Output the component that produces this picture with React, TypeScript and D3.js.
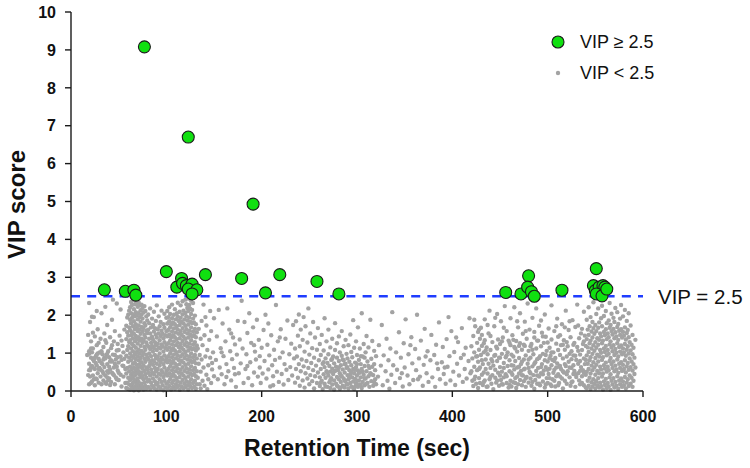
import React from "react";
import * as d3 from "d3";

// Retention time (sec) and VIP score of the variables with VIP >= 2.5
const vipHigh: [number, number][] = [
  [77, 9.08], [123, 6.70], [191, 4.93],
  [35, 2.67], [57, 2.63], [66, 2.66], [68, 2.53], [100, 3.15], [111, 2.74],
  [116, 2.97], [117, 2.84], [121, 2.78], [127, 2.82], [123, 2.69], [132, 2.67],
  [127, 2.56], [141, 3.07], [179, 2.97], [204, 2.59], [219, 3.07], [258, 2.89],
  [281, 2.56], [456, 2.60], [472, 2.56], [480, 3.04], [479, 2.74], [483, 2.62],
  [486, 2.50], [515, 2.66], [551, 3.23], [548, 2.78], [550, 2.65], [554, 2.74],
  [558, 2.78], [560, 2.74], [551, 2.56], [557, 2.51], [562, 2.69],
];

// VIP < 2.5 : [retention time, list of VIP scores at that time]
const grayEarly: [number, number[]][] = [
  [17, [0.95]], [18, [0.42, 1.48]], [19, [0.18, 0.72, 1.05, 2.32]], [20, [1.82, 0.55, 0.38]],
  [21, [0.88, 1.31, 0.62]], [22, [0.25, 0.66, 1.96, 1.02]], [23, [1.12, 0.41, 0.84]],
  [24, [0.79, 1.95, 0.31]], [25, [0.15, 0.58, 1.44]], [26, [0.92, 0.33, 0.74]],
  [27, [1.21, 0.68, 2.11]], [28, [0.47, 1.63, 0.99]], [29, [0.85, 0.22]], [30, [1.02, 0.61, 0.79]],
  [31, [0.38, 1.38, 0.56]], [32, [0.74, 2.05]], [33, [0.52, 0.97, 0.71]], [34, [0.28, 1.16, 0.46]],
  [35, [0.63, 1.52, 0.88]], [36, [0.41, 0.86, 2.22]], [37, [1.27, 0.19, 0.95]], [38, [0.71, 1.74, 0.52]],
  [39, [0.48, 1.05, 0.28]], [40, [0.33, 0.89, 0.64]], [41, [1.42, 0.57]], [42, [0.24, 1.13, 0.81]],
  [43, [0.78, 1.88]], [44, [0.45, 0.96, 2.41]], [45, [1.31, 0.62, 0.42]], [46, [0.18, 1.58]],
  [47, [0.83, 0.36, 0.66]], [48, [1.07, 2.31]], [49, [0.54, 1.24, 0.89]], [50, [0.75, 0.29]],
  [51, [1.46]], [52, [0.91, 0.43, 2.15]], [53, [0.12]], [54, [0.67, 1.19]], [55, [0.38]],
  [56, [0.85, 1.62]], [57, [0.21, 0.58]],
];

const grayEarlyExtra: [number, number[]][] = [
  [19, [0.55, 0.98]], [21, [0.21, 1.12]], [23, [0.62, 1.54]], [25, [0.87]], [27, [0.31, 0.96]],
  [29, [0.58, 1.27]], [32, [0.18, 1.05]], [34, [0.83]], [36, [0.22, 1.34]], [38, [0.36, 0.98]],
  [41, [0.78, 0.16]], [43, [0.48, 1.21]], [46, [0.72, 0.95]], [48, [0.31, 0.64]], [50, [1.08, 0.48]],
  [53, [0.82, 1.33]], [55, [0.66, 1.02]],
];

const grayPeakA: [number, number[]][] = [
  [58, [0.08, 0.46, 0.93, 1.37, 1.72]], [59, [0.22, 0.61, 1.08, 1.55, 1.94]],
  [60, [0.05, 0.35, 0.77, 1.18, 1.46, 2.01]], [61, [0.17, 0.52, 0.88, 1.29, 1.68, 2.12]],
  [62, [0.03, 0.29, 0.64, 0.99, 1.34, 1.61, 1.88, 2.21]], [63, [0.14, 0.43, 0.81, 1.12, 1.47, 1.79, 2.05, 2.35]],
  [64, [0.07, 0.36, 0.58, 0.92, 1.24, 1.55, 1.93, 2.27]], [65, [0.21, 0.49, 0.72, 1.05, 1.39, 1.71, 2.02, 2.41]],
  [66, [0.02, 0.31, 0.62, 0.88, 1.19, 1.51, 1.84, 2.16, 2.44]], [67, [0.12, 0.41, 0.75, 0.97, 1.31, 1.63, 1.97, 2.29]],
  [68, [0.05, 0.26, 0.55, 0.84, 1.14, 1.45, 1.76, 2.08, 2.38]], [69, [0.17, 0.46, 0.69, 1.03, 1.36, 1.67, 1.99, 2.31]],
  [70, [0.09, 0.33, 0.61, 0.92, 1.25, 1.58, 1.89, 2.22]], [71, [0.02, 0.24, 0.52, 0.81, 1.09, 1.42, 1.73, 2.05, 2.34]],
  [72, [0.14, 0.43, 0.71, 0.99, 1.33, 1.62, 1.95, 2.26]], [73, [0.07, 0.36, 0.64, 0.87, 1.19, 1.51, 1.83, 2.13]],
  [74, [0.19, 0.48, 0.76, 1.06, 1.38, 1.69, 2.01, 2.28]], [75, [0.11, 0.39, 0.59, 0.94, 1.27, 1.57, 1.91, 2.19]],
  [76, [0.04, 0.31, 0.68, 1.01, 1.34, 1.66, 2.07]], [77, [0.22, 0.53, 0.85, 1.16, 1.48, 1.79, 2.24]],
  [78, [0.13, 0.44, 0.77, 1.09, 1.41, 1.73, 2.11]], [79, [0.06, 0.35, 0.62, 0.96, 1.28, 1.59, 1.97]],
  [80, [0.25, 0.57, 0.89, 1.21, 1.53, 1.86]],
];

const grayValley: [number, number[]][] = [
  [81, [0.11, 0.48, 0.83, 1.17, 1.62, 2.02]], [82, [0.29, 0.66, 0.99, 1.38, 1.79]],
  [83, [0.05, 0.41, 0.74, 1.11, 1.52, 2.18]], [84, [0.22, 0.57, 0.92, 1.27, 1.68]],
  [85, [0.14, 0.49, 0.81, 1.19, 1.43, 1.91]], [86, [0.33, 0.69, 1.04, 1.36, 1.74]],
  [87, [0.08, 0.44, 0.78, 1.13, 1.57, 2.09]], [88, [0.26, 0.61, 0.95, 1.29, 1.66]],
  [89, [0.17, 0.52, 0.86, 1.21, 1.49, 1.85]], [90, [0.04, 0.38, 0.72, 1.08, 1.41, 2.26]],
  [91, [0.21, 0.58, 0.91, 1.25, 1.63]], [92, [0.12, 0.46, 0.82, 1.15, 1.52, 1.97]],
  [93, [0.31, 0.67, 0.99, 1.34, 1.71]], [94, [0.06, 0.43, 0.76, 1.12, 1.45, 1.82]],
  [95, [0.24, 0.55, 0.88, 1.23, 1.59, 2.12]], [96, [0.15, 0.49, 0.83, 1.18, 1.51]],
  [97, [0.02, 0.37, 0.71, 1.04, 1.39, 1.76]], [98, [0.27, 0.62, 0.94, 1.29, 1.67, 2.04]],
  [99, [0.09, 0.44, 0.79, 1.13, 1.47]], [100, [0.19, 0.53, 0.87, 1.22, 1.58, 1.93]],
];

const grayPeakB: [number, number[]][] = [
  [101, [0.07, 0.41, 0.76, 1.09, 1.44, 1.78, 2.11]], [102, [0.24, 0.58, 0.92, 1.26, 1.61, 1.95]],
  [103, [0.13, 0.47, 0.81, 1.15, 1.49, 1.84, 2.21]], [104, [0.31, 0.65, 0.99, 1.33, 1.68, 2.03]],
  [105, [0.04, 0.38, 0.72, 1.06, 1.41, 1.75]], [106, [0.21, 0.55, 0.89, 1.23, 1.57, 1.92, 2.28]],
  [107, [0.11, 0.45, 0.79, 1.13, 1.47, 1.81]], [108, [0.28, 0.62, 0.96, 1.31, 1.65, 2.01]],
  [109, [0.06, 0.39, 0.73, 1.07, 1.42, 1.76, 2.16]], [110, [0.18, 0.52, 0.86, 1.21, 1.54, 1.89]],
  [111, [0.09, 0.34, 0.68, 1.02, 1.37, 1.71, 2.05]], [112, [0.25, 0.59, 0.93, 1.27, 1.62, 1.96, 2.33]],
  [113, [0.14, 0.48, 0.82, 1.16, 1.51, 1.85]], [114, [0.03, 0.37, 0.71, 1.05, 1.39, 1.74, 2.09]],
  [115, [0.22, 0.56, 0.91, 1.24, 1.58, 1.93, 2.26]], [116, [0.12, 0.46, 0.79, 1.14, 1.48, 1.82]],
  [117, [0.29, 0.63, 0.97, 1.32, 1.66, 2.02, 2.37]], [118, [0.07, 0.41, 0.75, 1.09, 1.43, 1.78, 2.12]],
  [119, [0.19, 0.53, 0.87, 1.22, 1.56, 1.89]], [120, [0.1, 0.35, 0.69, 1.03, 1.38, 1.72, 2.06, 2.41]],
  [121, [0.26, 0.6, 0.94, 1.28, 1.63, 1.97, 2.29]], [122, [0.15, 0.49, 0.83, 1.17, 1.52, 1.86, 2.19]],
  [123, [0.04, 0.38, 0.72, 1.07, 1.41, 1.75, 2.11, 2.44]], [124, [0.23, 0.57, 0.91, 1.25, 1.59, 1.94, 2.27]],
  [125, [0.13, 0.47, 0.81, 1.15, 1.49, 1.83, 2.17]], [126, [0.31, 0.65, 0.99, 1.34, 1.68, 2.03, 2.38]],
  [127, [0.08, 0.42, 0.76, 1.1, 1.44, 1.79, 2.14]], [128, [0.21, 0.55, 0.89, 1.23, 1.57, 1.91, 2.32]],
  [129, [0.11, 0.45, 0.79, 1.13, 1.47, 1.81]], [130, [0.27, 0.61, 0.95, 1.29, 1.64, 1.99]],
  [131, [0.06, 0.39, 0.73, 1.07, 1.42, 1.76]], [132, [0.18, 0.52, 0.86, 1.2, 1.55]],
];

const grayMidEarly: [number, number[]][] = [
  [133, [0.35, 1.12]], [134, [0.72, 1.64]], [135, [0.18, 0.95]], [136, [1.38, 0.51, 0.07]],
  [137, [0.83, 1.85]], [138, [0.27, 1.21]], [139, [0.62, 2.28]], [140, [1.47, 0.14]],
  [141, [0.91, 1.95]], [142, [0.43, 1.73]], [143, [1.08, 0.05]], [144, [0.31, 0.68]],
  [145, [1.35]], [146, [0.88, 2.11]], [147, [0.21, 1.58]], [148, [0.57, 0.74]], [149, [1.02]],
  [150, [0.39, 1.92]], [152, [0.82]], [153, [1.44]], [154, [0.31]], [155, [2.14]], [156, [0.62]],
  [157, [1.13]], [158, [0.44, 1.02]], [159, [1.78]], [160, [0.92]], [161, [0.18]], [162, [1.31]],
  [163, [0.71, 0.37]], [164, [2.18]], [165, [0.52]], [166, [1.62]], [167, [1.05]], [168, [0.28, 1.52]],
  [169, [0.84]], [170, [1.41]], [171, [0.61]], [172, [1.23, 0.44]], [173, [0.11]], [174, [0.96]],
  [175, [1.85]], [176, [0.47]], [177, [1.36]], [178, [0.73]], [179, [2.38]], [180, [1.12]],
  [181, [0.21]], [182, [1.82]], [183, [0.58]], [184, [0.97]], [185, [1.53, 0.66]], [186, [0.34]],
  [187, [2.05]], [188, [0.76]], [189, [1.27]], [190, [0.15]], [191, [1.68]], [192, [0.49, 1.21]],
  [193, [1.04]], [194, [0.83]], [195, [1.88]], [196, [0.38]], [197, [1.35]], [198, [0.62, 0.92]],
  [199, [0.21]], [200, [1.14]], [201, [0.46]], [202, [1.61]], [203, [0.79]], [204, [2.01]],
  [205, [0.33]], [206, [1.22]], [207, [0.57, 1.78]], [208, [0.94]], [209, [0.12]], [210, [1.47]],
  [211, [0.68]], [212, [0.39, 0.15]], [213, [1.09]], [214, [0.82]], [215, [2.27]], [216, [0.51]],
  [217, [1.31]], [218, [0.24]], [219, [0.88, 1.41]], [220, [1.63]], [221, [0.45]], [222, [1.02]],
  [223, [0.17]], [224, [0.71]], [225, [1.38]], [226, [0.56]], [227, [1.86]], [228, [0.29]],
  [229, [0.97]], [230, [0.63]], [231, [1.25]], [232, [0.41]], [233, [1.74]], [234, [0.86]],
];

const grayMid: [number, number[]][] = [
  [235, [0.22, 1.12]], [236, [0.58, 1.84]], [237, [0.91]], [238, [0.35, 1.46]], [239, [0.71, 2.02]],
  [240, [0.14, 1.18]], [241, [0.52, 1.62]], [242, [0.83]], [243, [0.28, 1.35]], [244, [0.65, 1.95]],
  [245, [0.09, 1.04]], [246, [0.47, 1.71]], [247, [0.79]], [248, [0.33, 1.28]], [249, [0.61, 2.18]],
  [250, [0.18, 0.96]], [251, [0.42, 1.52]], [252, [0.74]], [253, [0.26, 1.13]], [254, [0.55, 1.82]],
  [255, [0.07, 0.88]], [256, [0.39, 1.41]], [257, [0.67]], [258, [0.21, 1.09]], [259, [0.49, 1.66]],
  [260, [0.81]], [261, [0.13, 0.36, 1.24]], [262, [0.58, 0.95]], [263, [0.27, 1.48]], [264, [0.72, 0.05]],
  [265, [0.44, 1.07]], [266, [0.19, 0.63, 1.92]], [267, [0.86, 0.35]], [268, [0.52, 1.31]], [269, [0.11, 0.74]],
  [270, [0.41, 0.97, 1.62]], [271, [0.23, 0.66]], [272, [0.08, 0.51, 1.15]], [273, [0.34, 0.82]],
  [274, [0.17, 0.59, 1.38]], [275, [0.45, 0.91]], [276, [0.04, 0.28, 0.73]], [277, [0.53, 1.08, 1.79]],
  [278, [0.19, 0.64]], [279, [0.37, 0.88, 1.26]], [280, [0.12, 0.55]], [281, [0.31, 0.79, 1.44]],
  [282, [0.06, 0.47, 1.02]], [283, [0.24, 0.68]], [284, [0.39, 0.93, 1.58]], [285, [0.14, 0.57]],
  [286, [0.33, 0.81, 1.18]], [287, [0.09, 0.49]], [288, [0.27, 0.72, 1.35]], [289, [0.18, 0.61, 0.98]],
  [290, [0.42, 0.86]], [291, [0.07, 0.31, 1.21]], [292, [0.55, 0.77]], [293, [0.21, 0.44, 1.49]],
  [294, [0.12, 0.68, 1.03]], [295, [0.36, 0.89]], [296, [0.25, 0.58, 1.87]], [297, [0.05, 0.47, 1.14]],
  [298, [0.32, 0.75]], [299, [0.19, 0.63, 1.31]], [300, [0.41, 0.95]], [301, [0.11, 0.54, 1.68]],
  [302, [0.28, 0.82]], [303, [0.17, 0.49, 1.12]], [304, [0.36, 0.71]], [305, [0.08, 0.58, 2.05]],
  [306, [0.24, 0.91]], [307, [0.43, 1.24]], [308, [0.15, 0.66]], [309, [0.33, 1.02]], [310, [0.52, 1.45]],
  [311, [0.21, 0.78]], [312, [0.39, 1.15]], [313, [0.11, 0.61]], [314, [0.47, 1.88]], [315, [0.26, 0.85]],
  [316, [0.64, 1.32]], [317, [0.14, 0.42]], [318, [0.71, 1.06]], [319, [0.31, 0.55]], [320, [0.18, 0.92]],
];

const grayMidExtra: [number, number[]][] = [
  [262, [0.22]], [265, [0.76]], [267, [0.12]], [269, [0.48]], [272, [0.29]], [274, [0.85]], [276, [0.52]],
  [279, [0.14]], [281, [0.62]], [283, [0.41, 0.09]], [285, [0.83]], [287, [0.27, 0.71]], [290, [0.18, 0.63]],
  [292, [0.36]], [294, [0.51]], [296, [0.08]], [298, [0.56, 0.12]], [300, [0.27, 0.71]], [302, [0.48]],
  [304, [0.16, 0.92]], [306, [0.51]], [308, [0.33, 0.88]], [310, [0.19]], [312, [0.66]], [315, [0.44]],
  [318, [0.23]],
];

const grayGap: [number, number[]][] = [
  [322, [0.38]], [323, [1.21]], [325, [0.67]], [326, [1.74]], [327, [0.15]], [328, [0.94]], [330, [0.52]],
  [331, [1.38]], [332, [0.27]], [333, [0.81]], [334, [0.06]], [335, [1.12]], [336, [0.43]], [337, [2.08]],
  [338, [0.68]], [340, [0.21]], [341, [1.02]], [342, [0.56]], [344, [1.55]], [345, [0.34]], [346, [0.88]],
  [347, [0.47]], [348, [0.12]], [349, [1.26]], [350, [0.62]], [351, [1.89]], [353, [0.41]], [354, [0.97]],
  [355, [0.18]], [356, [1.21]], [357, [1.42]], [358, [0.73]], [359, [0.29]], [361, [1.11]], [362, [0.55]],
  [363, [2.01]], [364, [0.31]], [365, [0.86]], [366, [0.38]], [367, [1.33]], [369, [0.14]], [370, [0.69]],
  [371, [1.64]], [372, [0.91]], [373, [0.47]], [374, [1.05]], [375, [0.24]], [377, [0.81]], [378, [1.48]],
  [379, [0.36]], [381, [0.95]], [382, [0.11]], [383, [1.22]], [384, [0.73]], [385, [0.58]], [386, [1.81]],
  [387, [0.31]], [389, [0.76]], [390, [1.16]], [391, [0.45]], [392, [0.62]], [393, [0.19]], [394, [1.37]],
  [395, [0.64]], [396, [1.95]], [397, [0.92]], [398, [0.28]], [399, [1.58]], [401, [0.51]], [402, [1.03]],
  [403, [0.16]], [404, [1.41]], [405, [0.72]], [406, [1.29]], [407, [0.41]], [409, [0.87]], [410, [1.66]],
  [411, [0.24]], [412, [0.96]], [413, [0.58]], [414, [1.14]], [415, [0.33]], [417, [0.79]], [418, [1.92]],
  [419, [0.47]],
];

const grayLateA: [number, number[]][] = [
  [420, [0.52, 1.18]], [421, [0.27, 0.86]], [422, [1.45, 0.13]], [423, [0.64, 1.02]], [424, [0.38, 1.71]],
  [425, [0.91, 0.19]], [426, [0.55, 1.27]], [427, [0.08, 0.77, 1.56]], [428, [0.34, 1.09]],
  [429, [0.62, 1.38, 0.21]], [430, [0.95, 1.67]], [431, [0.43, 1.19]], [432, [0.16, 0.71]], [433, [1.02, 0.49]],
  [434, [0.28, 1.34, 1.89]], [435, [0.83, 0.58]], [436, [0.11, 1.15]], [437, [0.46, 0.97]], [438, [0.72, 1.52]],
  [439, [0.31, 2.12]], [440, [0.61, 1.08]], [441, [0.19, 0.84]], [442, [1.29, 0.42]], [443, [0.05, 0.67]],
  [444, [0.93, 1.71]], [445, [0.35, 0.56]], [446, [1.17, 0.22]], [447, [0.79, 2.03]], [448, [0.48, 1.36]],
  [449, [0.14, 0.88]], [450, [0.63, 1.24]], [451, [0.29, 1.84]], [452, [0.98, 0.51]], [453, [0.17, 1.41]],
  [454, [0.74, 0.36]], [455, [1.11, 2.24]], [456, [0.44, 0.89]], [457, [0.21, 1.58]], [458, [0.66, 1.02]],
  [459, [0.09, 1.33]], [460, [0.52, 0.81]],
  [461, [0.27, 1.21, 1.92]], [462, [0.68, 0.12]], [463, [0.43, 1.47]], [464, [0.91, 0.23]],
  [465, [0.57, 1.16, 2.21]], [466, [0.34, 0.79]], [467, [1.32, 0.08]], [468, [0.62, 1.04]], [469, [0.18, 1.68]],
  [470, [0.87, 0.46]], [471, [0.29, 1.26, 2.05]], [472, [0.71, 0.53]], [473, [1.09, 0.15]], [474, [0.41, 1.51]],
  [475, [0.83, 0.26]], [476, [0.59, 1.19, 1.83]], [477, [0.11, 0.94]], [478, [0.37, 1.38]], [479, [0.72, 2.31]],
  [480, [0.22, 1.06]], [481, [0.51, 1.62]], [482, [0.88, 0.33]], [483, [0.14, 1.24]], [484, [0.65, 1.93]],
  [485, [0.42, 0.97]], [486, [1.41, 0.06]], [487, [0.76, 0.29]], [488, [0.53, 1.12, 2.18]], [489, [0.19, 0.84]],
  [490, [1.33, 0.61]], [491, [0.38, 1.72]], [492, [0.92, 0.15]], [493, [0.47, 1.18]], [494, [0.71, 1.54]],
  [495, [0.25, 0.98]], [496, [1.27, 0.54]], [497, [0.09, 0.81, 2.02]], [498, [0.63, 1.43]], [499, [0.34, 1.06]],
  [500, [0.78, 0.21]], [501, [0.45, 1.65]], [502, [1.14, 0.59]], [503, [0.17, 0.93]], [504, [0.68, 1.36, 2.26]],
  [505, [0.31, 0.82]], [506, [1.02, 0.48]], [507, [0.56, 1.58]], [508, [0.12, 0.87]], [509, [1.25, 0.39]],
  [510, [0.73, 1.91]], [511, [0.44, 1.08]], [512, [0.21, 0.64]], [513, [1.47, 0.95]], [514, [0.58, 1.21]],
  [515, [0.33, 1.76]], [516, [0.86, 0.07]], [517, [0.49, 1.34]], [518, [1.09, 0.27]], [519, [0.66, 2.12]],
  [520, [0.19, 0.91]], [521, [1.18, 0.52]], [522, [0.77, 1.61]], [523, [0.36, 0.98]], [524, [1.42, 0.14]],
  [525, [0.61, 1.05]], [526, [0.25, 1.87]], [527, [0.94, 0.45]], [528, [0.53, 1.27]], [529, [0.11, 1.69]],
  [530, [0.82, 0.37]], [531, [1.16, 2.28]], [532, [0.47, 0.72]], [533, [0.28, 1.39]], [534, [0.96, 0.18]],
  [535, [0.63, 1.52]], [536, [0.39, 1.08]], [537, [1.24, 0.55]], [538, [0.15, 0.86, 2.09]], [539, [0.71, 1.46]],
  [540, [0.43, 1.19]],
];

const grayLateExtra: [number, number[]][] = [
  [423, [0.31, 1.88]], [426, [0.92]], [428, [0.58, 1.62]], [431, [0.81, 1.48]], [433, [0.24, 1.26]],
  [435, [1.07]], [437, [0.12, 1.74]], [440, [0.37, 1.45]], [442, [0.78]], [445, [0.95, 1.93]],
  [447, [0.28, 1.12]], [450, [0.41, 0.88]], [452, [1.31, 0.18]], [454, [0.61, 1.67]], [457, [0.39, 0.94]],
  [460, [1.27, 0.16]], [462, [0.48, 0.96]], [464, [0.67, 1.35]], [466, [1.12, 0.21]], [468, [0.38, 1.84]],
  [470, [0.64, 1.19]], [473, [0.42, 0.77]], [475, [1.22, 0.57]], [477, [0.33, 1.58]], [480, [0.61, 0.83]],
  [482, [1.18, 0.47]], [484, [0.24, 1.09]], [486, [0.72, 1.56]], [489, [0.41, 1.33]], [491, [0.87, 0.19]],
  [493, [0.63, 1.86]], [495, [0.44, 1.44]], [498, [0.17, 0.95]], [500, [0.56, 1.28]], [502, [0.34, 0.86]],
  [504, [1.02, 0.13]], [507, [0.27, 0.79]], [509, [0.62, 1.71]], [511, [0.15, 1.43]], [513, [0.38, 0.66]],
  [516, [0.52, 1.22]], [518, [0.71, 1.68]], [520, [0.44, 1.29]], [523, [0.62, 1.84]], [525, [0.23, 0.84]],
  [527, [1.22, 0.68]], [529, [0.44, 0.93]], [532, [1.06, 1.73]], [534, [0.53, 0.79]], [536, [0.21, 1.64]],
  [538, [0.48, 1.31]], [540, [0.82, 0.09]],
];

const grayLateB: [number, number[]][] = [
  [541, [0.08, 0.51, 0.94, 1.37, 1.88]], [542, [0.27, 0.72, 1.15, 1.62]], [543, [0.14, 0.58, 1.03, 1.48, 2.21]],
  [544, [0.35, 0.81, 1.26, 1.71]], [545, [0.05, 0.46, 0.89, 1.33, 1.95]], [546, [0.23, 0.67, 1.12, 1.57]],
  [547, [0.12, 0.55, 0.98, 1.41, 1.82]], [548, [0.31, 0.76, 1.21, 1.66, 2.34]], [549, [0.19, 0.62, 1.06, 1.51]],
  [550, [0.07, 0.43, 0.87, 1.29, 1.74]], [551, [0.26, 0.69, 1.14, 1.58, 2.03]], [552, [0.15, 0.53, 0.96, 1.39]],
  [553, [0.34, 0.78, 1.22, 1.67, 2.18]], [554, [0.09, 0.47, 0.91, 1.35, 1.81]], [555, [0.22, 0.64, 1.08, 1.52]],
  [556, [0.13, 0.57, 1.01, 1.44, 1.92]], [557, [0.38, 0.82, 1.26, 1.71, 2.25]], [558, [0.04, 0.46, 0.89, 1.33]],
  [559, [0.25, 0.68, 1.12, 1.56, 1.98]], [560, [0.16, 0.59, 1.03, 1.47]], [561, [0.32, 0.75, 1.19, 1.63, 2.11]],
  [562, [0.08, 0.51, 0.94, 1.37, 1.79]], [563, [0.21, 0.64, 1.08, 1.52]], [564, [0.12, 0.55, 0.98, 1.42, 1.86]],
  [565, [0.36, 0.79, 1.23, 1.67, 2.32]], [566, [0.03, 0.44, 0.87, 1.31, 1.74]], [567, [0.27, 0.71, 1.15, 1.58, 2.04]],
  [568, [0.17, 0.61, 1.05, 1.49]], [569, [0.34, 0.78, 1.21, 1.64, 1.93]], [570, [0.09, 0.52, 0.95, 1.39, 1.82]],
  [571, [0.24, 0.67, 1.11, 1.55, 2.19]], [572, [0.14, 0.57, 1.01, 1.44]], [573, [0.39, 0.83, 1.26, 1.69, 2.08]],
  [574, [0.06, 0.48, 0.91, 1.35, 1.77]], [575, [0.28, 0.72, 1.16, 1.59]], [576, [0.18, 0.61, 1.04, 1.48, 1.91]],
  [577, [0.33, 0.76, 1.2, 1.63, 2.27]], [578, [0.11, 0.53, 0.97, 1.41]], [579, [0.25, 0.69, 1.12, 1.56, 1.97]],
  [580, [0.15, 0.58, 1.02, 1.46]], [581, [0.37, 0.81, 1.24, 1.68, 2.14]], [582, [0.07, 0.49, 0.93, 1.36]],
  [583, [0.22, 0.65, 1.09, 1.53, 1.85]], [584, [0.31, 0.74, 1.18, 1.61]], [585, [0.13, 0.56, 0.99, 1.42, 2.05]],
  [586, [0.41, 0.86, 1.29]], [587, [0.19, 0.63, 1.07, 1.73]], [588, [0.35, 0.78, 1.22]],
  [589, [0.11, 0.54, 0.97, 1.48]], [590, [0.27, 0.71, 1.14]], [591, [0.45, 0.88]], [592, [0.62, 1.35]],
];

const xTicks = [0, 100, 200, 300, 400, 500, 600];
const yTicks = [0, 1, 2, 3, 4, 5, 6, 7, 8, 9, 10];
const threshold = 2.5;
const legendLabels = ["VIP \u2265 2.5", "VIP < 2.5"];
const thresholdLabel = "VIP = 2.5";
const xTitle = "Retention Time (sec)";
const yTitle = "VIP score";

const FONT = "'Liberation Sans', Arial, Helvetica, sans-serif";

export default function App() {
  const x = d3.scaleLinear().domain([0, 600]).range([71, 643]);
  const y = d3.scaleLinear().domain([0, 10]).range([391, 12]);

  const grayGroups = [
    grayEarly, grayEarlyExtra, grayPeakA, grayValley, grayPeakB, grayMidEarly, grayMid, grayMidExtra,
    grayGap, grayLateA, grayLateExtra, grayLateB,
  ];
  const grayPts: [number, number][] = [];
  grayGroups.forEach((g) => g.forEach(([rt, vs]) => vs.forEach((v) => grayPts.push([rt, v]))));

  const gray = "#a3a3a3";
  const green = "#10e010";
  const axisColor = "#1a1a1a";

  return (
    <svg width={750} height={468} style={{ position: "absolute", left: 0, top: 0, background: "#fff" }} fontFamily={FONT}>
      <rect width={750} height={468} fill="#fff" />
      <g fill={gray}>
        {grayPts.map((p, i) => (
          <circle key={i} cx={x(p[0])} cy={y(p[1])} r={2.2} />
        ))}
      </g>
      <line x1={x(0)} x2={x(600)} y1={y(threshold)} y2={y(threshold)} stroke="#1f3dff" strokeWidth={2.3} strokeDasharray="9,7.2" />
      <g fill={green} stroke={axisColor} strokeWidth={1.1}>
        {vipHigh.map((p, i) => (
          <circle key={i} cx={x(p[0])} cy={y(p[1])} r={6} />
        ))}
      </g>
      <g stroke={axisColor} strokeWidth={1.4} fill="none">
        <line x1={x(0)} x2={x(0)} y1={y(10)} y2={y(0)} />
        <line x1={x(0)} x2={x(600)} y1={y(0)} y2={y(0)} />
        {yTicks.map((t) => (
          <line key={"yt" + t} x1={x(0) - 6} x2={x(0)} y1={y(t)} y2={y(t)} />
        ))}
        {xTicks.map((t) => (
          <line key={"xt" + t} x1={x(t)} x2={x(t)} y1={y(0)} y2={y(0) + 6} />
        ))}
      </g>
      <g fontSize={16} fontWeight="bold" fill="#111">
        {yTicks.map((t) => (
          <text key={"yl" + t} x={56} y={y(t)} dy="0.36em" textAnchor="end">{t}</text>
        ))}
        {xTicks.map((t) => (
          <text key={"xl" + t} x={x(t)} y={422} textAnchor="middle">{t}</text>
        ))}
      </g>
      <text x={(x(0) + x(600)) / 2} y={456} textAnchor="middle" fontSize={23} fontWeight="bold" fill="#111">{xTitle}</text>
      <text transform={`translate(25,${204.5}) rotate(-90)`} textAnchor="middle" fontSize={24} fontWeight="bold" fill="#111">{yTitle}</text>
      <text x={658} y={y(threshold)} dy="0.36em" fontSize={20.5} fill="#111">{thresholdLabel}</text>
      <circle cx={558} cy={42} r={6} fill={green} stroke={axisColor} strokeWidth={1.1} />
      <text x={580} y={42} dy="0.36em" fontSize={18} fill="#111">{legendLabels[0]}</text>
      <circle cx={558} cy={73} r={2.2} fill={gray} />
      <text x={580} y={73} dy="0.36em" fontSize={18} fill="#111">{legendLabels[1]}</text>
    </svg>
  );
}
